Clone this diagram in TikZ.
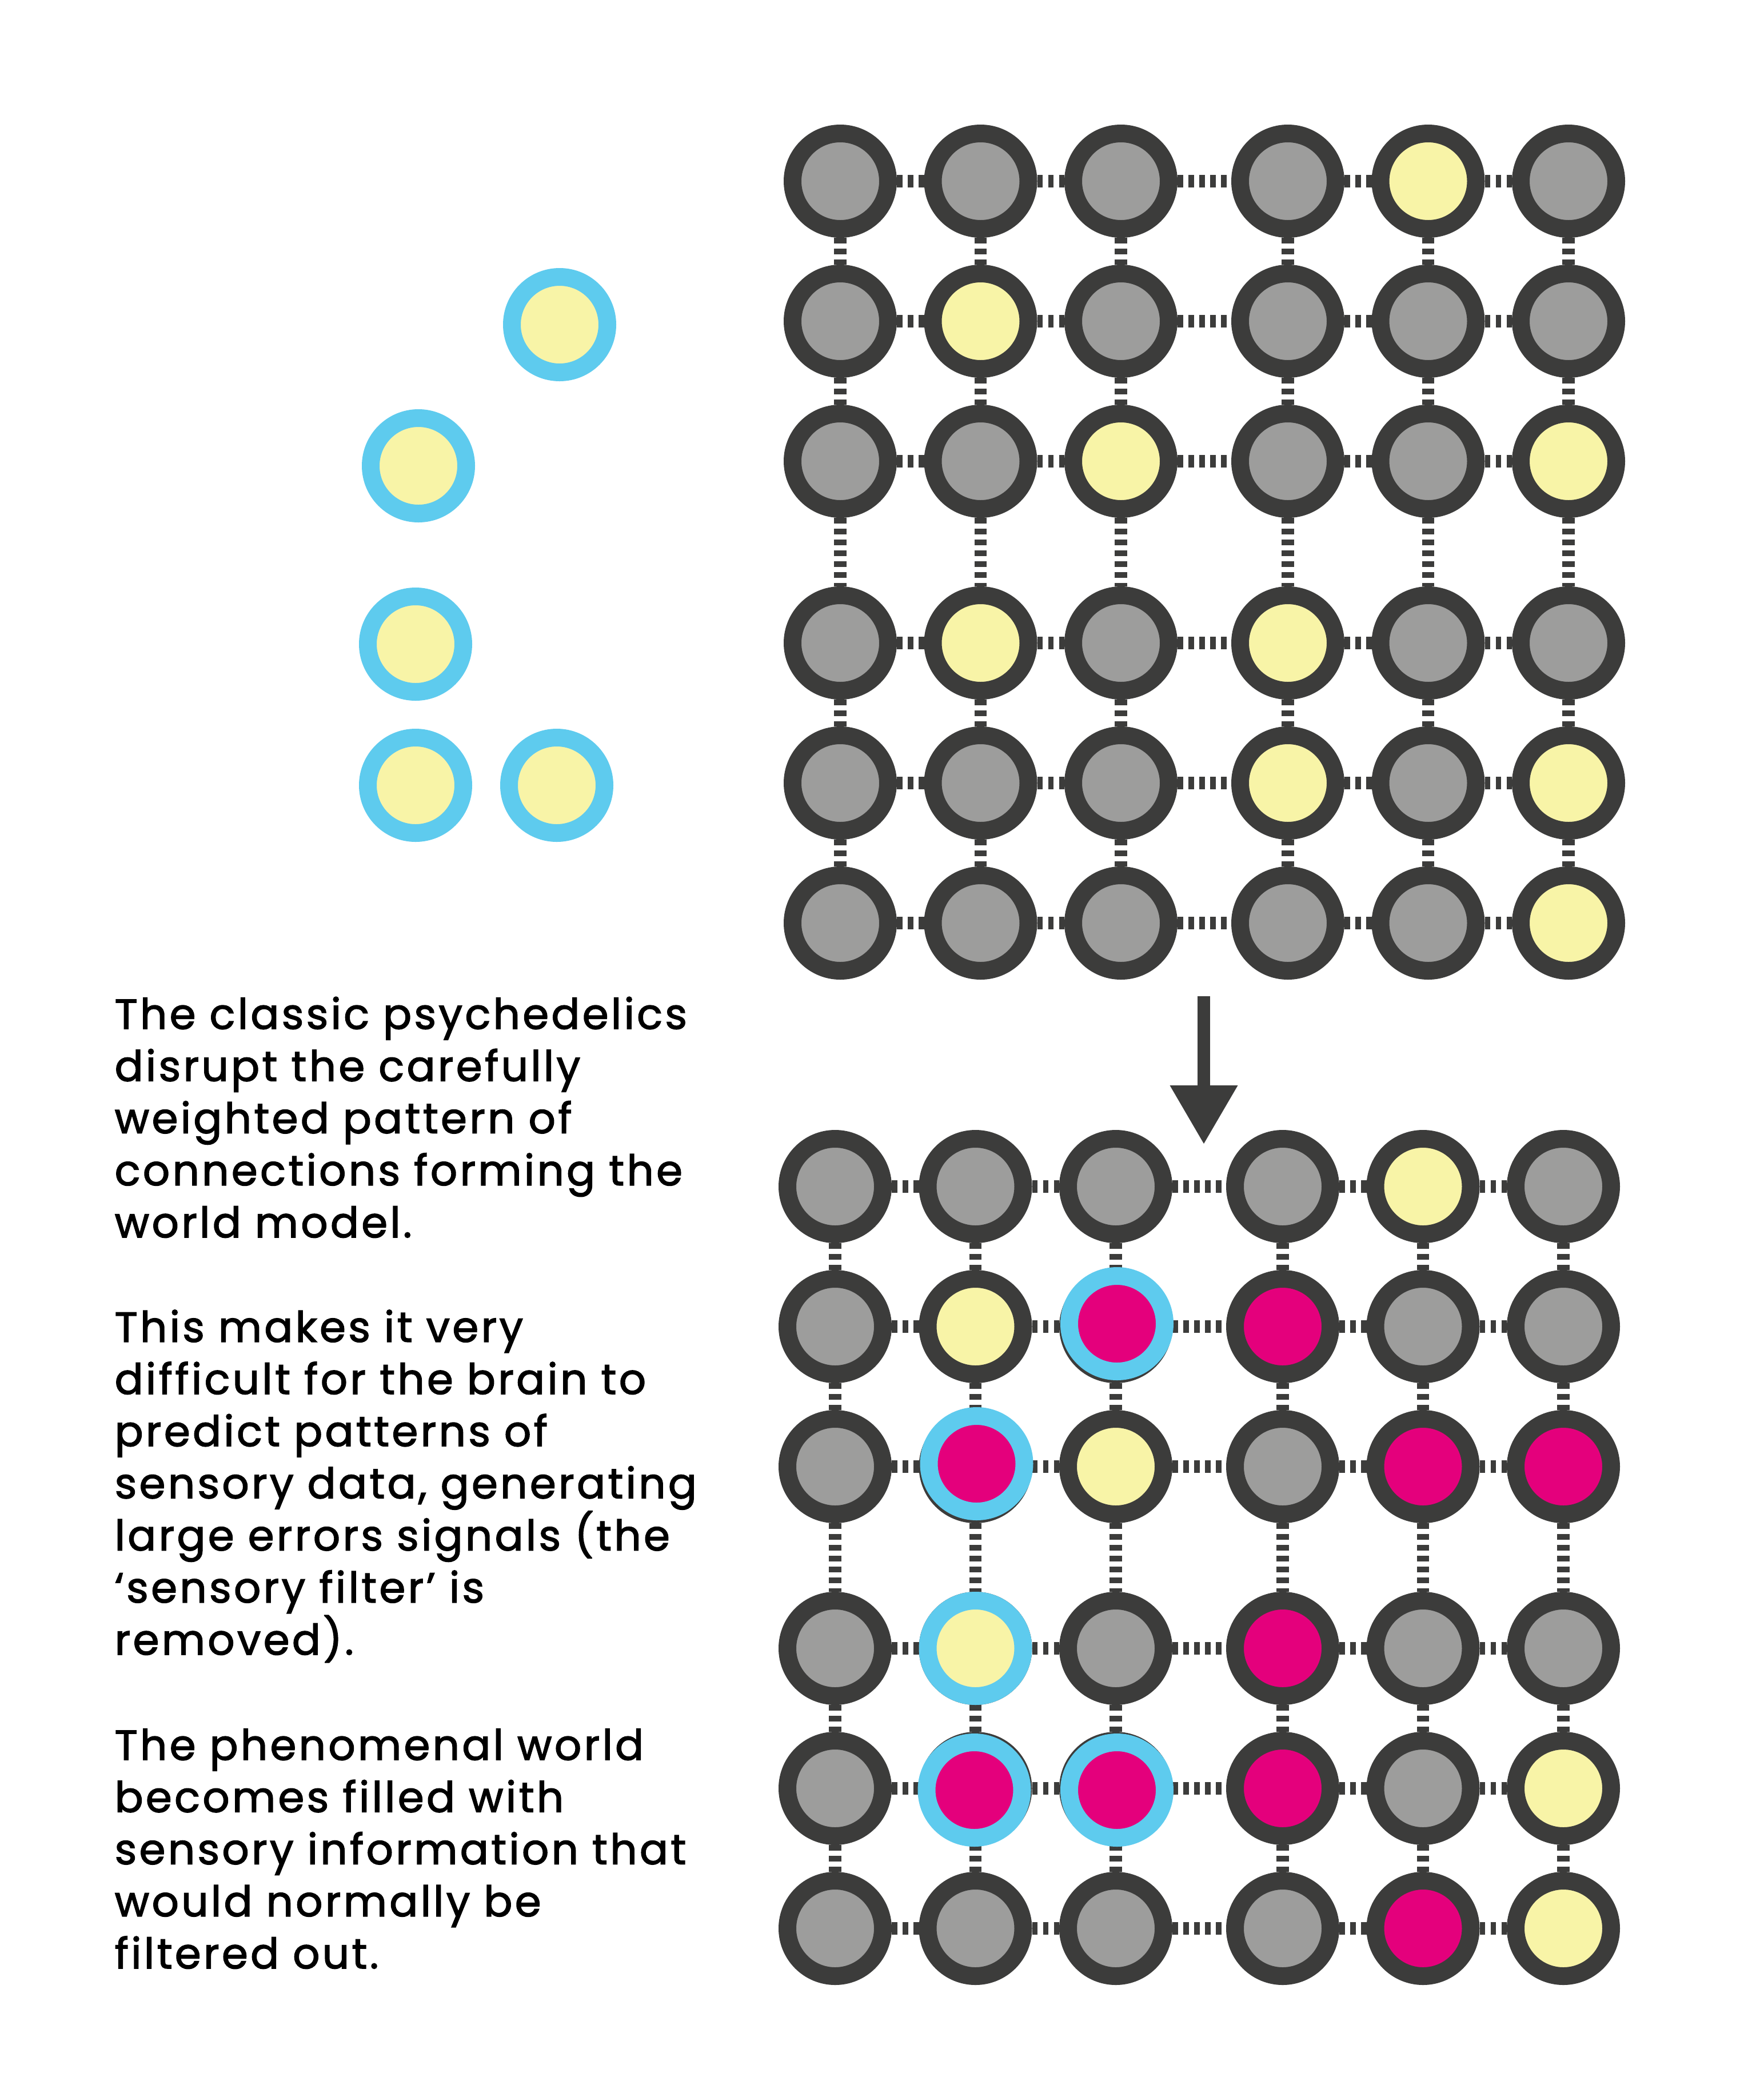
\documentclass[tikz,border=0pt]{standalone}
\usepackage{fontspec}
\setmainfont{Poppins}[LetterSpace=6, FakeBold=2]
\usetikzlibrary{arrows.meta}

\definecolor{ringdark}{HTML}{3C3C3B}
\definecolor{cellgray}{HTML}{9D9D9C}
\definecolor{cellyellow}{HTML}{F8F4A7}
\definecolor{cellpink}{HTML}{E4007C}
\definecolor{sensblue}{HTML}{5ECBEE}

\tikzset{
  unit/.style={circle, inner sep=0pt, minimum size=1.67cm, line width=0.31cm, draw=ringdark},
  idle/.style={unit, fill=cellgray},
  lit/.style={unit, fill=cellyellow},
  error/.style={unit, fill=cellpink},
  sense/.style={unit, draw=sensblue, fill=cellyellow},
  senseerr/.style={unit, draw=sensblue, fill=cellpink},
  link/.style={draw=ringdark, line width=0.217cm, dash pattern=on 0.095cm off 0.095cm},
  flow/.style={draw=ringdark, line width=0.22cm, -{Triangle[length=1.02cm, width=1.19cm, line width=0pt]}},
  caption/.style={anchor=base west, align=left, inner sep=0pt, text=black,
    font=\fontsize{21}{25.95}\selectfont},
}

\begin{document}
\begin{tikzpicture}
		\fill[white] (0,0) rectangle (30.86,-36.62);
		\useasboundingbox (0,0) rectangle (30.86,-36.62);
		
		% sensory input
		\node[sense] (in1) at (9.79,-5.68) {};
		\node[sense] (in2) at (7.32,-8.15) {};
		\node[sense] (in3) at (7.27,-11.27) {};
		\node[sense] (in4) at (7.27,-13.74) {};
		\node[sense] (in5) at (9.74,-13.74) {};
		
		% world model before
		\foreach \cells [count=\r] in {
			{idle,idle,idle,idle,lit,idle},
			{idle,lit,idle,idle,idle,idle},
			{idle,idle,lit,idle,idle,lit},
			{idle,lit,idle,lit,idle,idle},
			{idle,idle,idle,lit,idle,lit},
			{idle,idle,idle,idle,idle,lit}}
		\foreach \st [count=\c] in \cells {
			\pgfmathsetmacro\xpos{14.70+(\c-1)*2.455+(\c>3)*0.465}
			\pgfmathsetmacro\ypos{-3.17-(\r-1)*2.45-(\r>3)*0.73}
			\node[\st] (t\r\c) at (\xpos,\ypos) {};
		}
		
		% world model after
		\foreach \cells [count=\r] in {
			{idle,idle,idle,idle,lit,idle},
			{idle,lit,error,error,idle,idle},
			{idle,error,lit,idle,error,error},
			{idle,lit,idle,error,idle,idle},
			{idle,error,error,error,idle,lit},
			{idle,idle,idle,idle,error,lit}}
		\foreach \st [count=\c] in \cells {
			\pgfmathsetmacro\xpos{14.61+(\c-1)*2.455+(\c>3)*0.465}
			\pgfmathsetmacro\ypos{-20.76-(\r-1)*2.45-(\r>3)*0.73}
			\node[\st] (b\r\c) at (\xpos,\ypos) {};
		}
		
		% connections
		\foreach \g in {t,b}
		\foreach \i in {1,...,6}
		\foreach \j/\k in {1/2,2/3,3/4,4/5,5/6} {
			\draw[link] (\g\i\j) -- (\g\i\k);
			\draw[link] (\g\j\i) -- (\g\k\i);
		}
		
		% filtered-in input
		\node[senseerr, xshift=0.02cm, yshift=0.05cm] (s23) at (b23) {};
		\node[senseerr, xshift=0.02cm, yshift=0.05cm] (s32) at (b32) {};
		\node[sense] (s42) at (b42) {};
		\node[senseerr, xshift=-0.02cm, yshift=-0.03cm] (s52) at (b52) {};
		\node[senseerr, xshift=0.02cm, yshift=-0.03cm] (s53) at (b53) {};
		
		\coordinate (arrowtop) at (21.06,-17.43);
		\coordinate (arrowtip) at (21.06,-20.01);
		\draw[flow] (arrowtop) -- (arrowtip);
		
		% text (base = last line)
		\node[caption] (para1) at (2.0,-21.65) {The classic psychedelics\\disrupt the carefully\\weighted pattern of\\connections forming the\\world model.};
		\node[caption] (para2) at (2.0,-28.95) {This makes it very\\difficult for the brain to\\predict patterns of\\sensory data, generating\\large errors signals (the\\‘sensory filter’ is\\removed).};
		\node[caption] (para3) at (2.0,-34.44) {The phenomenal world\\becomes filled with\\sensory information that\\would normally be\\filtered out.};
	\end{tikzpicture}
\end{document}
